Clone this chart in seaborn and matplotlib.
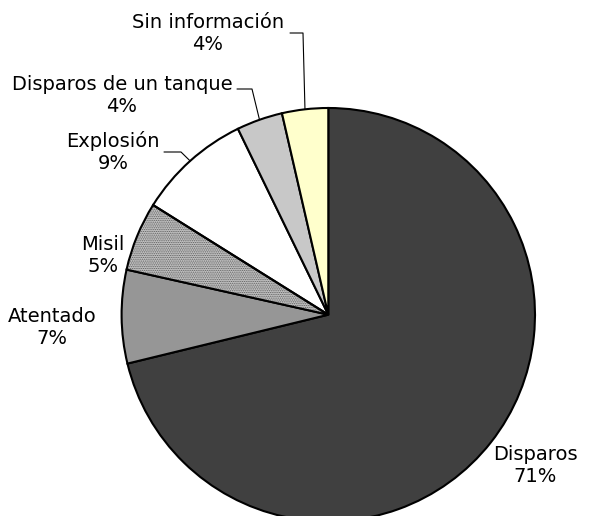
import numpy as np
import matplotlib.pyplot as plt
import seaborn as sns
from matplotlib.patches import Wedge

# Data
categories = ["Disparos", "Atentado", "Misil", "Explosión",
              "Disparos de un tanque", "Sin información"]
shares = [71.2, 7.3, 5.4, 8.9, 3.6, 3.6]
colors = ["#404040", "#969696", "#c4c4c4", "#ffffff", "#c8c8c8", "#ffffcc"]

sns.set_style("white")
plt.rcParams['font.family'] = ['DejaVu Sans']
plt.rcParams['hatch.linewidth'] = 0.6

W, H = 591, 516
CX, CY, R = 328.3, 314.7, 206.7


def px(x, y):
    # pixel position -> data coords (pie radius = 1)
    return (x - CX) / R, (CY - y) / R


fig = plt.figure(figsize=(W / 100, H / 100), dpi=100)
ax = fig.add_axes([0, 0, 1, 1])
wedges, _ = ax.pie(shares, colors=colors, startangle=90, counterclock=False,
                   radius=1, wedgeprops=dict(edgecolor='black', linewidth=1.5))

# dotted texture for "Misil"
w = wedges[2]
w.set_edgecolor('#5a5a5a')
w.set_linewidth(0)
w.set_hatch('.........')
ax.add_patch(Wedge(w.center, w.r, w.theta1, w.theta2, fill=False,
                   edgecolor='black', linewidth=1.5))

# label centres (pixels) and leader lines: (text end, elbow)
label_pos = [(535, 465), (52, 327), (103, 256), (113, 152), (122, 95), (208, 34)]
leaders = {3: [(164, 152), (181, 152)],
           4: [(237, 89), (252, 89)],
           5: [(290, 33), (303, 33)]}

for i, (cat, val) in enumerate(zip(categories, shares)):
    x, y = px(*label_pos[i])
    ax.text(x, y, f"{cat}\n{val:.0f}%", ha='center', va='center',
            fontsize=14, linespacing=1.2, color='black')
    if i in leaders:
        wd = wedges[i]
        mid = np.deg2rad((wd.theta1 + wd.theta2) / 2)
        pts = [px(*p) for p in leaders[i]] + [(np.cos(mid), np.sin(mid))]
        ax.plot([p[0] for p in pts], [p[1] for p in pts], color='black', lw=0.8)

ax.set_xlim(-CX / R, (W - CX) / R)
ax.set_ylim((CY - H) / R, CY / R)
ax.set_aspect('auto')
ax.axis('off')

plt.savefig("out.png", dpi=100)
